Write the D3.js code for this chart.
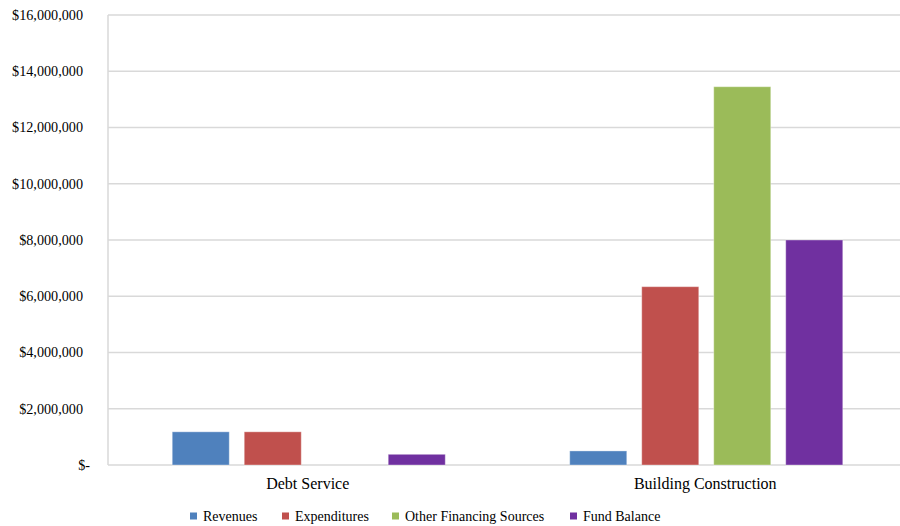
<!DOCTYPE html>
<html>
<head>
<meta charset="utf-8">
<script src="https://cdn.jsdelivr.net/npm/d3@7"></script>
<style>
  html, body { margin: 0; padding: 0; background: #fff; }
  svg { display: block; }
</style>
</head>
<body>
<svg id="chart" width="900" height="526"></svg>
<script>
const categories = ["Debt Service", "Building Construction"];
const seriesNames = ["Revenues", "Expenditures", "Other Financing Sources", "Fund Balance"];
const revenues = [1180000, 500000];
const expenditures = [1180000, 6340000];
const otherFinancing = [0, 13450000];
const fundBalance = [380000, 8000000];
const seriesColors = ["#4F81BD", "#C0504D", "#9BBB59", "#7030A0"];
const tickValues = [0, 2000000, 4000000, 6000000, 8000000, 10000000, 12000000, 14000000, 16000000];

const seriesValues = [revenues, expenditures, otherFinancing, fundBalance];
const FONT = "Liberation Serif";

const svg = d3.select("#chart");
const plotLeft = 108, plotRight = 900, plotTop = 15, plotBottom = 465;

const y = d3.scaleLinear().domain([0, 16000000]).range([plotBottom, plotTop]);
const x0 = d3.scaleBand().domain(categories).range([110, 905]);
const x1 = d3.scaleBand().domain(seriesNames).range([-144, 144]).paddingInner(0.208).paddingOuter(0.104);

// gridlines
svg.append("g").selectAll("line").data(tickValues).join("line")
  .attr("x1", plotLeft).attr("x2", plotRight)
  .attr("y1", d => y(d)).attr("y2", d => y(d))
  .attr("stroke", "#d9d9d9").attr("stroke-width", 1.5);

// vertical axis line
svg.append("line").attr("x1", plotLeft).attr("x2", plotLeft).attr("y1", plotTop).attr("y2", plotBottom)
  .attr("stroke", "#d9d9d9").attr("stroke-width", 1.5);

// y labels
const fmt = d3.format(",");
svg.append("g").selectAll("text").data(tickValues).join("text")
  .attr("x", d => d === 0 ? 90 : 83)
  .attr("y", d => y(d))
  .attr("dy", "0.35em")
  .attr("text-anchor", "end")
  .style("font-family", FONT)
  .style("font-size", "14.2px")
  .attr("fill", "#000")
  .text(d => d === 0 ? "$-" : "$" + fmt(d));

// bars
const data = [];
categories.forEach((c, ci) => {
  seriesNames.forEach((s, si) => {
    data.push({ cat: c, series: s, value: seriesValues[si][ci], color: seriesColors[si] });
  });
});
svg.append("g").selectAll("rect").data(data.filter(d => d.value > 0)).join("rect")
  .attr("x", d => x0(d.cat) + x0.bandwidth() / 2 + x1(d.series))
  .attr("width", x1.bandwidth())
  .attr("y", d => y(d.value))
  .attr("height", d => y(0) - y(d.value))
  .attr("fill", d => d.color)
  .attr("stroke", "rgba(255,255,255,0.35)")
  .attr("stroke-width", 1);

// category labels
svg.append("g").selectAll("text").data(categories).join("text")
  .attr("x", d => x0(d) + x0.bandwidth() / 2 - 1)
  .attr("y", 483)
  .attr("dy", "0.35em")
  .attr("text-anchor", "middle")
  .style("font-family", FONT)
  .style("font-size", "16px")
  .attr("fill", "#000")
  .text(d => d);

// legend
const legendX = [190, 282, 392, 570];
const lg = svg.append("g").selectAll("g").data(seriesNames).join("g")
  .attr("transform", (d, i) => `translate(${legendX[i]},516)`);
lg.append("rect").attr("x", 0).attr("y", -3.5).attr("width", 7).attr("height", 7)
  .attr("fill", (d, i) => seriesColors[i]);
lg.append("text").attr("x", 13).attr("y", 0).attr("dy", "0.35em")
  .style("font-family", FONT)
  .style("font-size", "14px").attr("fill", "#000").text(d => d);
</script>
</body>
</html>
